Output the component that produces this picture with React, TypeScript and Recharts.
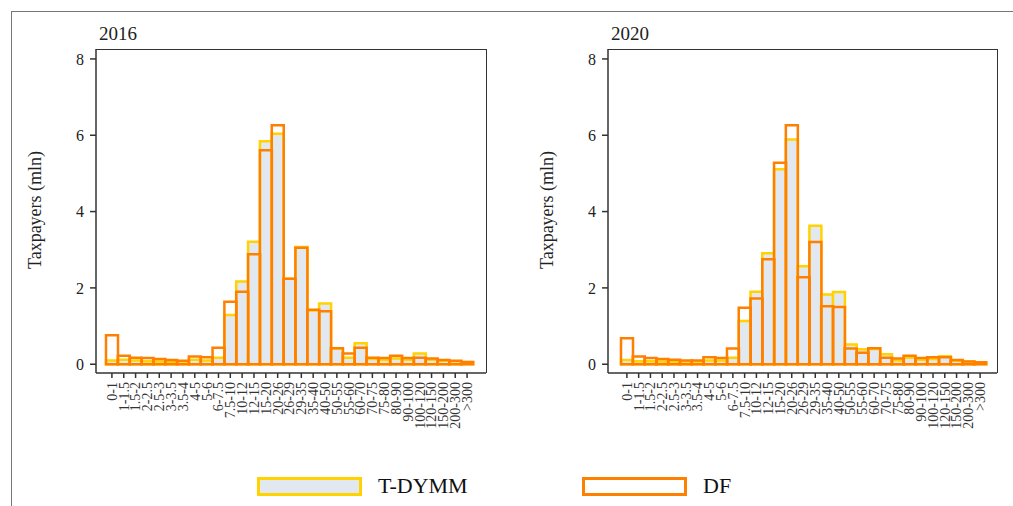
import React from 'react';
import { BarChart, Bar, XAxis, YAxis } from 'recharts';

const categories = [
    '0-1', '1-1.5', '1.5-2', '2-2.5', '2.5-3', '3-3.5', '3.5-4', '4-5', '5-6', '6-7.5',
    '7.5-10', '10-12', '12-15', '15-20', '20-26', '26-29', '29-35', '35-40', '40-50', '50-55',
    '55-60', '60-70', '70-75', '75-80', '80-90', '90-100', '100-120', '120-150', '150-200', '200-300', '>300',
];

const tdymm2016 = [0.1, 0.12, 0.1, 0.08, 0.07, 0.06, 0.07, 0.12, 0.1, 0.17, 1.29, 2.17, 3.21, 5.84, 6.04, 2.24, 3.07, 1.41, 1.59, 0.41, 0.17, 0.55, 0.14, 0.11, 0.15, 0.12, 0.28, 0.12, 0.09, 0.08, 0.05];
const df2016 = [0.76, 0.22, 0.17, 0.16, 0.14, 0.11, 0.09, 0.2, 0.18, 0.43, 1.64, 1.9, 2.88, 5.61, 6.26, 2.24, 3.05, 1.43, 1.39, 0.42, 0.28, 0.43, 0.17, 0.16, 0.22, 0.16, 0.17, 0.15, 0.11, 0.09, 0.06];

const tdymm2020 = [0.11, 0.08, 0.08, 0.07, 0.07, 0.07, 0.07, 0.1, 0.1, 0.17, 1.13, 1.9, 2.91, 5.11, 5.89, 2.57, 3.63, 1.83, 1.89, 0.52, 0.39, 0.4, 0.26, 0.1, 0.17, 0.12, 0.14, 0.21, 0.09, 0.07, 0.05];
const df2020 = [0.68, 0.2, 0.16, 0.14, 0.12, 0.1, 0.1, 0.18, 0.16, 0.41, 1.48, 1.72, 2.75, 5.28, 6.26, 2.28, 3.2, 1.52, 1.5, 0.41, 0.3, 0.42, 0.17, 0.15, 0.22, 0.16, 0.18, 0.18, 0.11, 0.07, 0.05];

const yTicks = [0, 2, 4, 6, 8];

const FONT = '"Liberation Serif", "DejaVu Serif", serif';
const AXIS = '#333';
const YELLOW = '#ffd200';
const ORANGE = '#ff8000';
const GREY = '#e2e8ef';

const XTick = ({ x, y, payload }: any) => (
    <text
        x={x}
        y={y + 2}
        transform={`rotate(-90, ${x}, ${y + 2})`}
        textAnchor="end"
        dy="0.35em"
        fontSize={14}
        fontFamily={FONT}
        fill="#333"
    >
        {payload.value}
    </text>
);

interface PanelProps {
    title: string;
    t: number[];
    df: number[];
    left: number;
    yWidth: number;
    padL: number;
    padR: number;
    rightMargin: number;
}

const Panel: React.FC<PanelProps> = ({ title, t, df, left, yWidth, padL, padR, rightMargin }) => {
    const data = categories.map((name, i) => ({ name, t: t[i], df: df[i] }));
    const labelX = left + yWidth - 61;
    const plotLeft = left + yWidth;
    const plotWidth = 500 - yWidth - rightMargin;

    return (
        <>
            <div style={{ position: 'absolute', left: plotLeft + 3, top: 24, fontSize: 19, lineHeight: 1, fontFamily: FONT, color: '#222' }}>
                {title}
            </div>
            <div
                style={{
                    position: 'absolute', left: labelX, top: 210, transform: 'translate(-50%, -50%) rotate(-90deg)',
                    fontSize: 18, lineHeight: 1, fontFamily: FONT, color: '#222', whiteSpace: 'nowrap',
                }}
            >
                Taxpayers (mln)
            </div>
            <div style={{ position: 'absolute', left, top: 0 }}>
                <BarChart
                    width={500}
                    height={460}
                    data={data}
                    barCategoryGap={0}
                    barGap={0}
                    margin={{ top: 49, right: rightMargin, left: 0, bottom: 0 }}
                >
                    <XAxis
                        xAxisId="b"
                        dataKey="name"
                        interval={0}
                        height={87}
                        padding={{ left: padL, right: padR }}
                        tickSize={5}
                        tick={<XTick />}
                        stroke={AXIS}
                        strokeWidth={1.5}
                    />
                    <XAxis xAxisId="t" dataKey="name" orientation="top" height={0} padding={{ left: padL, right: padR }} hide />
                    <YAxis
                        yAxisId="l"
                        width={yWidth}
                        domain={[-0.23, 8.26]}
                        allowDataOverflow
                        ticks={yTicks}
                        tickSize={6}
                        tickMargin={6}
                        tick={{ fontSize: 16, fontFamily: FONT, fill: '#222' }}
                        stroke={AXIS}
                        strokeWidth={1.5}
                    />
                    <Bar xAxisId="b" yAxisId="l" dataKey="t" fill={GREY} stroke={YELLOW} strokeWidth={2.5} isAnimationActive={false} />
                    <Bar xAxisId="t" yAxisId="l" dataKey="df" fill="none" stroke={ORANGE} strokeWidth={2.5} isAnimationActive={false} />
                </BarChart>
            </div>
            {/* top and right edges of the plot frame */}
            <div
                style={{
                    position: 'absolute', left: plotLeft, top: 48.5, width: plotWidth + 1, height: 324.5, boxSizing: 'border-box',
                    borderTop: `1.5px solid ${AXIS}`, borderRight: `1.5px solid ${AXIS}`, pointerEvents: 'none',
                }}
            />
        </>
    );
};

const Swatch = ({ left, color, fill, label }: { left: number; color: string; fill: string; label: string }) => (
    <>
        <div
            style={{
                position: 'absolute', left, top: 477, width: 105, height: 19, boxSizing: 'border-box',
                border: `3px solid ${color}`, background: fill,
            }}
        />
        <div style={{ position: 'absolute', left: left + 121, top: 475, fontSize: 22, lineHeight: 1, fontFamily: FONT, color: '#111' }}>
            {label}
        </div>
    </>
);

export default function App() {
    return (
        <div style={{ position: 'absolute', left: 0, top: 0, width: 1013, height: 506, background: '#fff', overflow: 'hidden' }}>
            <div
                style={{
                    position: 'absolute', left: 11, top: 11, width: 1010, height: 500,
                    borderTop: '1.5px solid #777', borderLeft: '1.5px solid #777',
                }}
            />
            <Panel title="2016" t={tdymm2016} df={df2016} left={0} yWidth={96} padL={10} padR={13} rightMargin={14} />
            <Panel title="2020" t={tdymm2020} df={df2020} left={508} yWidth={100} padL={13} padR={11} rightMargin={11} />
            <Swatch left={257} color={YELLOW} fill={GREY} label="T-DYMM" />
            <Swatch left={582} color={ORANGE} fill="#fff" label="DF" />
        </div>
    );
}
